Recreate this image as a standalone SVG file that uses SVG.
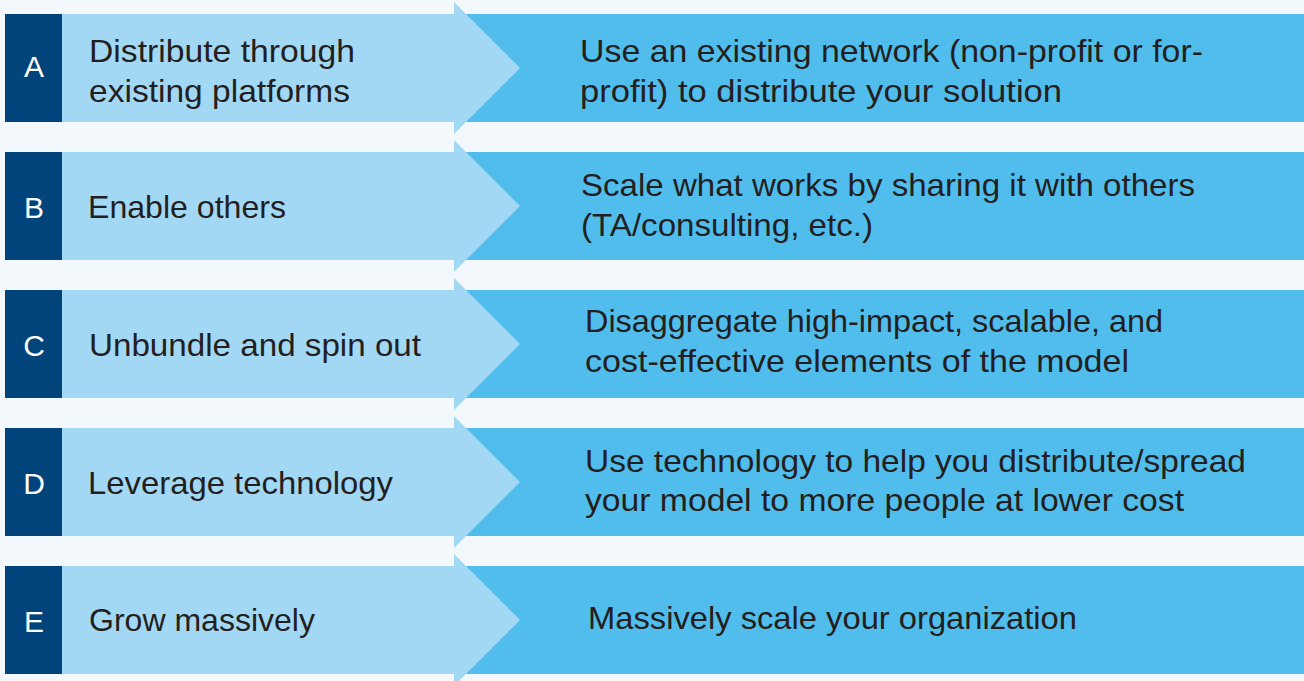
<svg xmlns="http://www.w3.org/2000/svg" width="1304" height="681" viewBox="0 0 1304 681">
<style>
.bg{fill:#f3f8fc}
.band{fill:#51bdec}
.arrow{fill:#a3d8f4}
.tag{fill:#00447b}
.letter{font-family:"Liberation Sans",Arial,sans-serif;font-size:30px;fill:#ffffff;text-anchor:middle}
.t{font-family:"Liberation Sans",Arial,sans-serif;font-size:32px;fill:#231f20}
</style>
<rect class="bg" x="0" y="0" width="1304" height="681"/>
<g id="row-A">
<rect class="band" x="454" y="14" width="850" height="108"/>
<polygon class="arrow" points="62,14 454,14 454,2 520,68 454,134 454,122 62,122"/>
<rect class="tag" x="5" y="14" width="57" height="108"/>
<text class="letter" x="34" y="77">A</text>
<text class="t" x="89" y="62" textLength="266" lengthAdjust="spacingAndGlyphs">Distribute through</text>
<text class="t" x="89" y="102" textLength="261" lengthAdjust="spacingAndGlyphs">existing platforms</text>
<text class="t" x="580" y="62" textLength="623" lengthAdjust="spacingAndGlyphs">Use an existing network (non-profit or for-</text>
<text class="t" x="580" y="102" textLength="482" lengthAdjust="spacingAndGlyphs">profit) to distribute your solution</text>
</g>
<g id="row-B">
<rect class="band" x="454" y="152" width="850" height="108"/>
<polygon class="arrow" points="62,152 454,152 454,140 520,206 454,272 454,260 62,260"/>
<rect class="tag" x="5" y="152" width="57" height="108"/>
<text class="letter" x="34" y="218">B</text>
<text class="t" x="88" y="218" textLength="198" lengthAdjust="spacingAndGlyphs">Enable others</text>
<text class="t" x="581" y="196" textLength="614" lengthAdjust="spacingAndGlyphs">Scale what works by sharing it with others</text>
<text class="t" x="581" y="236" textLength="292" lengthAdjust="spacingAndGlyphs">(TA/consulting, etc.)</text>
</g>
<g id="row-C">
<rect class="band" x="454" y="290" width="850" height="108"/>
<polygon class="arrow" points="62,290 454,290 454,278 520,344 454,410 454,398 62,398"/>
<rect class="tag" x="5" y="290" width="57" height="108"/>
<text class="letter" x="34" y="356">C</text>
<text class="t" x="89" y="356" textLength="332" lengthAdjust="spacingAndGlyphs">Unbundle and spin out</text>
<text class="t" x="585" y="332" textLength="578" lengthAdjust="spacingAndGlyphs">Disaggregate high-impact, scalable, and</text>
<text class="t" x="585" y="372" textLength="544" lengthAdjust="spacingAndGlyphs">cost-effective elements of the model</text>
</g>
<g id="row-D">
<rect class="band" x="454" y="428" width="850" height="108"/>
<polygon class="arrow" points="62,428 454,428 454,416 520,482 454,548 454,536 62,536"/>
<rect class="tag" x="5" y="428" width="57" height="108"/>
<text class="letter" x="34" y="494">D</text>
<text class="t" x="88" y="494" textLength="305" lengthAdjust="spacingAndGlyphs">Leverage technology</text>
<text class="t" x="585" y="472" textLength="661" lengthAdjust="spacingAndGlyphs">Use technology to help you distribute/spread</text>
<text class="t" x="585" y="511" textLength="599" lengthAdjust="spacingAndGlyphs">your model to more people at lower cost</text>
</g>
<g id="row-E">
<rect class="band" x="454" y="566" width="850" height="108"/>
<polygon class="arrow" points="62,566 454,566 454,554 520,620 454,686 454,674 62,674"/>
<rect class="tag" x="5" y="566" width="57" height="108"/>
<text class="letter" x="34" y="632">E</text>
<text class="t" x="89" y="631" textLength="226" lengthAdjust="spacingAndGlyphs">Grow massively</text>
<text class="t" x="588" y="629" textLength="489" lengthAdjust="spacingAndGlyphs">Massively scale your organization</text>
</g>
<g id="connectors"/>
</svg>
